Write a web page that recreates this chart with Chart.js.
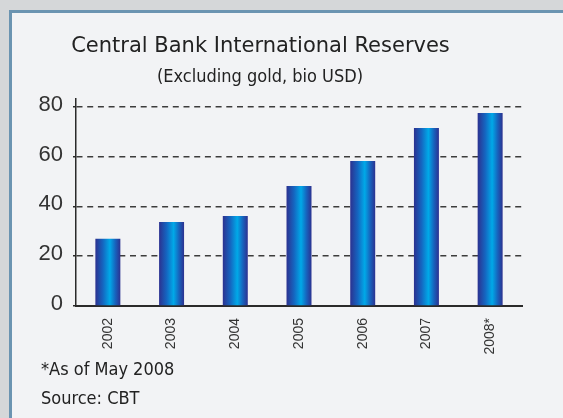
<!DOCTYPE html>
<html>
<head>
<meta charset="utf-8">
<script src="https://cdn.jsdelivr.net/npm/chart.js@4.4.1/dist/chart.umd.min.js"></script>
<style>
  html, body { margin: 0; padding: 0; }
  body { width: 563px; height: 418px; background: #d5d7d9; position: relative; overflow: hidden; }
  #panel { position: absolute; left: 9px; top: 10px; right: 0; bottom: 0;
           border-left: 3px solid #6b94b1; border-top: 3px solid #6b94b1; background: #f2f3f5; }
  #chart { position: absolute; left: 0; top: 0; }
  .txt { position: absolute; line-height: 1; color: #222; white-space: nowrap; }
  #title { left: 0; width: 521px; top: 33px; text-align: center; font: 21px "DejaVu Sans"; }
  #subtitle { left: 0; width: 520px; top: 65px; text-align: center; font: 18px "DejaVu Sans Condensed"; }
  .note { left: 41px; font: 18px "DejaVu Sans Condensed"; }
</style>
</head>
<body>
<div id="panel"></div>
<canvas id="chart" width="563" height="418"></canvas>
<div class="txt" id="title">Central Bank International Reserves</div>
<div class="txt" id="subtitle">(Excluding gold, bio USD)</div>
<div class="txt note" style="top:358px">*As of May 2008</div>
<div class="txt note" style="top:387px">Source: CBT</div>
<script>
// data (bio USD)
const years = ['2002', '2003', '2004', '2005', '2006', '2007', '2008*'];
const reserves = [27, 33.7, 36.1, 48.2, 58.2, 71.5, 77.5];
const yTicks = [0, 20, 40, 60, 80];

// cylinder-like shading, one gradient per bar once it has its place
const barShade = {
    id: 'barShade',
    beforeDatasetsDraw(chart) {
        const ctx = chart.ctx;
        chart.getDatasetMeta(0).data.forEach(bar => {
            const { x, width } = bar.getProps(['x', 'width'], true);
            const g = ctx.createLinearGradient(x - width / 2, 0, x + width / 2, 0);
            g.addColorStop(0, '#2c3190');
            g.addColorStop(0.3, '#1565c0');
            g.addColorStop(0.58, '#00a9e8');
            g.addColorStop(0.8, '#1763bd');
            g.addColorStop(1, '#2c3190');
            // options are shared between bars, so give each its own copy
            bar.options = Object.assign({}, bar.options, { backgroundColor: g });
        });
    }
};

new Chart(document.getElementById('chart'), {
    type: 'bar',
    data: {
        labels: years,
        datasets: [{
            data: reserves,
            backgroundColor: '#1565c0',
            borderWidth: 0,
            barPercentage: 0.392,
            categoryPercentage: 1
        }]
    },
    options: {
        responsive: false,
        animation: false,
        layout: { padding: { top: 98.5, right: 41, left: 0, bottom: 0 } },
        plugins: { legend: { display: false }, tooltip: { enabled: false } },
        scales: {
            x: {
                grid: { display: false },
                border: { display: true, color: '#2a2a2a', width: 2 },
                ticks: {
                    minRotation: 90, maxRotation: 90, padding: 4,
                    color: '#333', font: { family: 'Liberation Sans', size: 14 }
                },
                afterFit: s => { s.height = 112; }
            },
            y: {
                min: 0,
                max: 83.3,
                afterBuildTicks: s => { s.ticks = yTicks.map(v => ({ value: v })); },
                grid: {
                    color: ctx => ctx.tick && ctx.tick.value === 0 ? 'rgba(0,0,0,0)' : '#3c3c3c',
                    lineWidth: 1.5,
                    tickLength: 3,
                    tickColor: '#2a2a2a',
                    tickBorderDash: []
                },
                border: { display: true, color: '#2a2a2a', width: 1.5, dash: [6, 4.7] },
                ticks: {
                    padding: 10, labelOffset: -2,
                    color: '#333', font: { family: 'Liberation Sans', size: 22 }
                },
                afterFit: s => { s.width = 76; }
            }
        }
    },
    plugins: [barShade]
});
</script>
</body>
</html>
